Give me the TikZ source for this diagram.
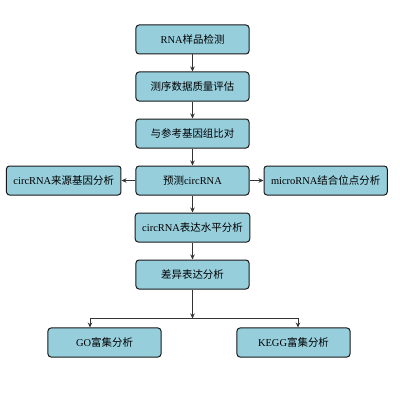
\documentclass[tikz,border=0pt]{standalone}
\usepackage{fontspec}
\setmainfont{Liberation Serif}
\newfontfamily\cjk{Noto Sans CJK SC}
\usepackage{tikz}
\usetikzlibrary{arrows.meta,positioning}
\definecolor{boxblue}{RGB}{150,206,220}

\begin{document}
\begin{tikzpicture}[x=1bp,y=1bp,
    node distance=17bp and 14bp,
    box/.style={draw=black!90,fill=boxblue,rounded corners=3bp,line width=1bp,
      minimum width=113bp,minimum height=29bp,inner sep=7bp,
      font=\fontsize{10.5}{12}\selectfont},
    >={Stealth[length=5bp,width=4.5bp]}]
  \useasboundingbox (0,0) rectangle (400,400);
  \node[box] (check) at (192.5,360.5) {RNA{\cjk 样品检测}};
  \node[box,below=of check] (quality) {{\cjk 测序数据质量评估}};
  \node[box,below=of quality] (align) {{\cjk 与参考基因组比对}};
  \node[box,below=of align] (predict) {{\cjk 预测}circRNA};
  \node[box,left=of predict] (source) {circRNA{\cjk 来源基因分析}};
  \node[box,right=of predict] (mirna) {microRNA{\cjk 结合位点分析}};
  \node[box,below=of predict] (level) {circRNA{\cjk 表达水平分析}};
  \node[box,below=of level] (diff) {{\cjk 差异表达分析}};
  \coordinate[below=29bp of diff] (split);
  \node[box] (go) at (104.5,57.5) {GO{\cjk 富集分析}};
  \node[box] (kegg) at (293.5,57.5) {KEGG{\cjk 富集分析}};
  \begin{scope}[draw=black!80,line width=0.8bp]
    \draw[->] (check) -- (quality);
    \draw[->] (quality) -- (align);
    \draw[->] (align) -- (predict);
    \draw[->] (predict) -- (source);
    \draw[->] (predict) -- (mirna);
    \draw[->] (predict) -- (level);
    \draw[->] (level) -- (diff);
    \draw[->] (diff) -- (split);
    \draw[->] (split) -| ([xshift=-14.5bp]go.north);
    \draw[->] (split) -| ([xshift=4.5bp]kegg.north);
  \end{scope}
\end{tikzpicture}
\end{document}
